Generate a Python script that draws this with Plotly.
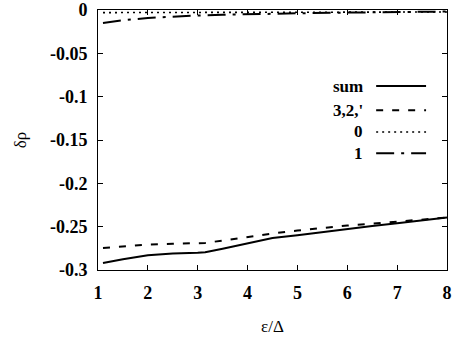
import plotly.graph_objects as go

# ---- data ----
x_sum = [1.1, 1.5, 2, 2.5, 3, 3.15, 3.5, 4, 4.5, 5, 5.5, 6, 6.5, 7, 7.5, 8]
y_sum = [-0.292, -0.2875, -0.2830, -0.2810, -0.2800, -0.2795, -0.2755, -0.2695,
         -0.2632, -0.2598, -0.2560, -0.2525, -0.2492, -0.2460, -0.2428, -0.2395]

x_32 = [1.1, 1.5, 2, 2.5, 3, 3.15, 3.5, 4, 4.5, 5, 5.5, 6, 6.5, 7, 7.5, 8]
y_32 = [-0.2745, -0.2725, -0.2707, -0.2698, -0.2690, -0.2688, -0.2660, -0.2615,
        -0.2578, -0.2545, -0.2515, -0.2487, -0.2465, -0.2443, -0.2420, -0.2395]

x_0 = [1.1, 2, 3, 4, 5, 6, 7, 8]
y_0 = [-0.0030, -0.0029, -0.0028, -0.0027, -0.0026, -0.0025, -0.0024, -0.0023]

x_1 = [1.1, 1.5, 2, 2.5, 3, 3.5, 4, 5, 6, 7, 8]
y_1 = [-0.0150, -0.0118, -0.0092, -0.0075, -0.0063, -0.0055, -0.0048, -0.0038,
       -0.0030, -0.0024, -0.0018]

labels = ["sum", "3,2,'", "0", "1"]
x_ticks = [1, 2, 3, 4, 5, 6, 7, 8]
y_ticks = [0, -0.05, -0.1, -0.15, -0.2, -0.25, -0.3]
y_ticktext = ["0", "-0.05", "-0.1", "-0.15", "-0.2", "-0.25", "-0.3"]

styles = [
    dict(dash="solid", width=2),
    dict(dash="7px,9px", width=2),
    dict(dash="2px,4px", width=1.6),
    dict(dash="18px,7px,3px,7px", width=2),
]

FONT = "Liberation Serif"
fig = go.Figure()
for xs, ys, lab, st in zip([x_sum, x_32, x_0, x_1], [y_sum, y_32, y_0, y_1], labels, styles):
    fig.add_trace(go.Scatter(x=xs, y=ys, mode="lines", name=lab,
                             line=dict(color="black", width=st["width"], dash=st["dash"]),
                             showlegend=False))

# custom legend: text on left, line sample on right
leg_y = [0.7075, 0.614, 0.531, 0.449]
for lab, st, yy in zip(labels, styles, leg_y):
    fig.add_annotation(x=0.765, y=yy, xref="paper", yref="paper", text=lab,
                       showarrow=False, xanchor="right", yanchor="middle",
                       font=dict(family=FONT, size=17, color="black", weight="bold"))
    fig.add_shape(type="line", xref="paper", yref="paper", x0=0.797, x1=0.94, y0=yy, y1=yy,
                  line=dict(color="black", width=st["width"], dash=st["dash"]))

axis_common = dict(showline=True, linecolor="black", linewidth=1, mirror="ticks",
                   ticks="inside", ticklen=5, tickcolor="black", tickwidth=1,
                   showgrid=False, zeroline=False, automargin=False,
                   tickfont=dict(family=FONT, size=18, color="black", weight="bold"))

fig.update_xaxes(range=[1, 8], tickvals=x_ticks, ticktext=[str(v) for v in x_ticks],
                 title=dict(text="ε/Δ", font=dict(family=FONT, size=17, color="black"), standoff=18),
                 ticklabelstandoff=6, **axis_common)
fig.update_yaxes(range=[-0.3, 0], tickvals=y_ticks, ticktext=y_ticktext,
                 title=dict(text="δρ", font=dict(family=FONT, size=17, color="black"), standoff=18),
                 ticklabelstandoff=6, **axis_common)

fig.update_layout(width=460, height=338, paper_bgcolor="white", plot_bgcolor="white",
                  font=dict(family=FONT),
                  margin=dict(l=98, r=13, t=9.5, b=68))
fig.write_html("out.html")
